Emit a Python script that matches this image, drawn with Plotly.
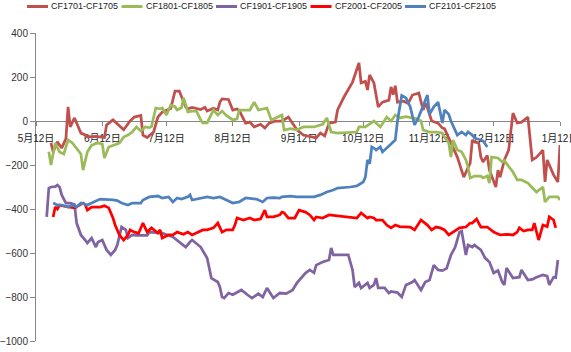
import plotly.graph_objects as go

# ---------------- data ----------------
tick_days = [0, 31, 61, 92, 123, 153, 184, 214, 245]
tick_labels = ["5月12日", "6月12日", "7月12日", "8月12日", "9月12日",
               "10月12日", "11月12日", "12月12日", "1月12日"]

names = ["CF1701-CF1705", "CF1801-CF1805", "CF1901-CF1905", "CF2001-CF2005", "CF2101-CF2105"]
colors = ["#C0504D", "#9BBB59", "#8064A2", "#FF0000", "#4F81BD"]

# x = days after 5月12日
days_1701 = [7, 8, 10, 12, 14, 15, 16, 18, 21, 23,
             25, 28, 32, 33, 36, 41, 44, 46, 49, 50,
             52, 55, 57, 59, 63, 65, 67, 70, 71, 73,
             77, 79, 80, 83, 85, 86, 87, 90, 92, 94,
             95, 98, 100, 102, 105, 107, 109, 112, 115, 118,
             120, 122, 125, 128, 131, 133, 135, 137, 140, 141,
             144, 148, 151, 152, 154, 155, 156, 158, 160, 162,
             165, 166, 167, 168, 169, 172, 174, 176, 179, 181,
             182, 183, 185, 188, 190, 191, 193, 195, 197, 200,
             202, 203, 204, 205, 207, 208, 209, 211, 212, 215,
             216, 217, 219, 221, 223, 225, 227, 230, 232, 234,
             237, 238, 239, 242, 244, 245]
vals_1701 = [-100, -140, -95, -123, -80, 64, -27, 14, -55, -62,
             -72, -70, -75, -18, 5, -40, 0, 18, 25, -64,
             -75, -50, 18, 40, 57, 136, 136, 64, 55, 62,
             52, 62, 45, 58, 50, 86, 100, 98, 50, 55,
             48, -10, -5, -27, -15, -32, -10, 0, 0, 18,
             -10, -40, -64, -72, -77, -55, -68, -10, -5, 50,
             109, 177, 264, 173, 180, 141, 209, 173, 64, 86,
             95, 155, 120, 160, 86, 90, 80, 118, 127, 50,
             82, 60, 0, -10, -32, -35, -77, -118, -164, -255,
             -209, -191, -86, -95, -100, -164, -186, -157, -223, -300,
             -223, -255, -177, -132, 36, -9, -5, 18, -177, -165,
             -132, -277, -177, -245, -277, -109]

days_1801 = [6, 7, 9, 11, 13, 15, 17, 21, 22, 24,
             26, 29, 31, 32, 34, 36, 39, 41, 43, 45,
             47, 49, 51, 53, 54, 56, 58, 59, 61, 63,
             65, 66, 68, 69, 71, 73, 75, 77, 78, 80,
             83, 85, 87, 89, 92, 94, 95, 100, 102, 104,
             108, 110, 113, 115, 116, 119, 122, 125, 130, 134,
             136, 138, 141, 150, 151, 154, 158, 161, 164, 166,
             168, 170, 173, 176, 178, 180, 181, 184, 187, 190,
             191, 193, 194, 195, 197, 199, 201, 202, 203, 205,
             208, 209, 211, 212, 213, 216, 218, 219, 221, 223,
             225, 227, 230, 232, 234, 237, 238, 240, 244, 245]
vals_1801 = [-140, -200, -100, -141, -150, -86, -100, -150, -223, -141,
             -110, -100, -105, -168, -118, -110, -100, -73, -64, -50,
             -27, -45, -27, -30, -25, 59, 55, 59, 27, 73,
             65, 50, 60, 105, 41, 45, 45, 5, -9, -9,
             50, 27, 45, 25, 5, 10, 50, 50, 86, 50,
             59, 5, 18, 27, -41, -35, -40, -27, -27, -15,
             14, -50, -55, -50, -27, -27, 0, -27, 18, 0,
             27, 14, 20, 14, 10, 0, -41, -50, -50, -55,
             -73, -100, -164, -86, -132, -140, -177, -209, -259, -250,
             -250, -259, -250, -282, -164, -168, -186, -180, -209, -232,
             -268, -268, -282, -305, -323, -300, -368, -345, -345, -359]

days_1901 = [5, 6, 7, 9, 10, 11, 12, 14, 16, 18,
             19, 21, 23, 24, 26, 28, 29, 31, 33, 35,
             37, 38, 40, 42, 43, 45, 47, 52, 53, 59,
             64, 67, 70, 72, 73, 77, 80, 82, 85, 86,
             87, 88, 90, 92, 96, 99, 101, 104, 106, 108,
             111, 114, 117, 120, 122, 126, 128, 130, 131, 134,
             137, 138, 139, 146, 148, 149, 151, 152, 155, 156,
             158, 159, 160, 163, 165, 166, 169, 171, 173, 176,
             177, 180, 182, 184, 186, 188, 190, 192, 194, 196,
             198, 199, 201, 202, 204, 205, 208, 210, 212, 214,
             216, 218, 219, 220, 222, 223, 226, 227, 230, 232,
             234, 237, 239, 240, 242, 243, 244]
vals_1901 = [-436, -305, -300, -298, -291, -300, -336, -373, -373, -380,
             -464, -518, -541, -555, -532, -573, -550, -541, -586, -609,
             -586, -564, -482, -495, -532, -518, -520, -520, -505, -510,
             -527, -550, -573, -550, -541, -573, -623, -714, -732, -755,
             -800, -805, -782, -790, -768, -791, -805, -785, -800, -759,
             -805, -782, -785, -768, -736, -691, -677, -690, -655, -641,
             -632, -577, -609, -609, -677, -755, -736, -759, -736, -759,
             -745, -714, -759, -759, -782, -775, -780, -800, -745, -732,
             -723, -768, -732, -723, -655, -677, -680, -670, -609, -573,
             -505, -500, -609, -564, -573, -564, -586, -623, -641, -691,
             -680, -732, -745, -668, -700, -714, -710, -677, -723, -720,
             -710, -700, -705, -745, -710, -712, -632]

days_2001 = [8, 9, 10, 11, 15, 18, 22, 23, 24, 26,
             30, 32, 34, 36, 37, 38, 39, 41, 43, 44,
             46, 48, 50, 52, 54, 57, 58, 59, 62, 64,
             66, 69, 71, 73, 76, 78, 80, 83, 85, 87,
             89, 92, 93, 94, 97, 100, 102, 105, 107, 108,
             111, 114, 115, 116, 118, 121, 123, 126, 128, 130,
             131, 134, 137, 145, 150, 152, 155, 156, 158, 159,
             162, 164, 166, 168, 170, 175, 177, 180, 183, 185,
             187, 189, 191, 193, 195, 198, 201, 203, 204, 206,
             208, 211, 214, 217, 220, 223, 225, 226, 228, 230,
             232, 233, 235, 237, 239, 240, 242, 243]
vals_2001 = [-436, -391, -400, -382, -391, -395, -373, -380, -405, -391,
             -391, -385, -395, -441, -473, -495, -518, -541, -518, -495,
             -505, -510, -464, -505, -486, -509, -495, -532, -518, -518,
             -505, -515, -505, -518, -505, -495, -495, -486, -464, -505,
             -495, -495, -473, -441, -450, -441, -450, -445, -405, -436,
             -436, -427, -414, -418, -441, -441, -405, -414, -427, -450,
             -436, -441, -427, -436, -441, -418, -441, -436, -441, -450,
             -450, -473, -486, -473, -480, -482, -495, -450, -473, -495,
             -482, -486, -495, -518, -505, -486, -482, -464, -464, -445,
             -482, -482, -505, -518, -515, -518, -505, -486, -500, -495,
             -495, -464, -541, -473, -480, -436, -450, -486]

days_2101 = [8, 10, 12, 15, 17, 19, 21, 24, 27, 30,
             36, 38, 40, 43, 45, 49, 50, 53, 57, 59,
             62, 64, 66, 68, 71, 72, 73, 77, 80, 83,
             86, 89, 92, 95, 98, 103, 106, 108, 111, 114,
             115, 119, 122, 126, 130, 133, 136, 139, 141, 147,
             150, 153, 154, 155, 156, 157, 158, 159, 161, 162,
             164, 166, 168, 169, 171, 173, 175, 177, 179, 181,
             183, 184, 186, 188, 190, 191, 193, 194, 196, 197,
             199, 201, 202, 204, 205, 208, 209, 211]
vals_2101 = [-373, -382, -382, -391, -382, -391, -373, -382, -368, -355,
             -359, -362, -373, -382, -373, -373, -359, -345, -341, -350,
             -345, -368, -350, -355, -345, -336, -359, -350, -345, -350,
             -345, -359, -373, -368, -350, -355, -368, -350, -348, -350,
             -345, -341, -345, -345, -345, -336, -323, -314, -305, -300,
             -295, -277, -255, -177, -195, -118, -123, -132, -118, -141,
             -125, -105, -86, 0, 116, 105, 64, -18, 20, 73,
             118, 30, 64, 86, -9, 50, 30, 0, -41, -64,
             -50, -64, -50, -64, -77, -86, -90, -118]

series_days = [days_1701, days_1801, days_1901, days_2001, days_2101]
series_vals = [vals_1701, vals_1801, vals_1901, vals_2001, vals_2101]

# ---------------- figure ----------------
W, H = 571, 352
L, R, T, B = 36, 11, 33, 11
PW, PH = W - L - R, H - T - B
AXIS = "#868686"
FONT = "Liberation Sans, Arial, Noto Sans CJK SC, sans-serif"


def xp(px):
    return (px - L) / PW


def yp(py):
    return (H - B - py) / PH


fig = go.Figure()
for n, c, d, v in zip(names, colors, series_days, series_vals):
    fig.add_trace(go.Scatter(x=d, y=v, mode="lines", name=n,
                             line=dict(color=c, width=2.75),
                             showlegend=False))

# legend (one row along the top)
for i, (n, c) in enumerate(zip(names, colors)):
    x0 = 27 + i * 94.5
    fig.add_shape(type="line", xref="paper", yref="paper",
                  x0=xp(x0), x1=xp(x0 + 21), y0=yp(6.5), y1=yp(6.5),
                  line=dict(color=c, width=3))
    fig.add_annotation(xref="paper", yref="paper", x=xp(x0 + 22), y=yp(6.5),
                       text=n, showarrow=False, xanchor="left", yanchor="middle",
                       font=dict(family=FONT, size=9, color="#222222"))

ymin, ymax = -1000, 400
fig.update_layout(
    width=W, height=H,
    margin=dict(l=L, r=R, t=T, b=B, pad=0),
    paper_bgcolor="white", plot_bgcolor="white",
    font=dict(family=FONT, size=10, color="#333333"),
    xaxis=dict(range=[0, 245], tickmode="array", tickvals=tick_days, ticktext=tick_labels,
               showgrid=False, zeroline=False, showline=True, linecolor=AXIS, linewidth=1,
               ticks="outside", ticklen=4, tickcolor=AXIS, tickwidth=1,
               anchor="free", position=(0 - ymin) / (ymax - ymin),
               layer="below traces", automargin=False, ticklabeloverflow="allow",
               ticklabelstandoff=4, tickfont=dict(size=10, color="#222222")),
    yaxis=dict(range=[ymin, ymax], tick0=0, dtick=200,
               showgrid=False, zeroline=False, showline=True, linecolor=AXIS, linewidth=1,
               ticks="outside", ticklen=5, tickcolor=AXIS, tickwidth=1,
               layer="below traces", automargin=False,
               tickfont=dict(size=10, color="#333333")),
)

fig.write_html("out.html")
